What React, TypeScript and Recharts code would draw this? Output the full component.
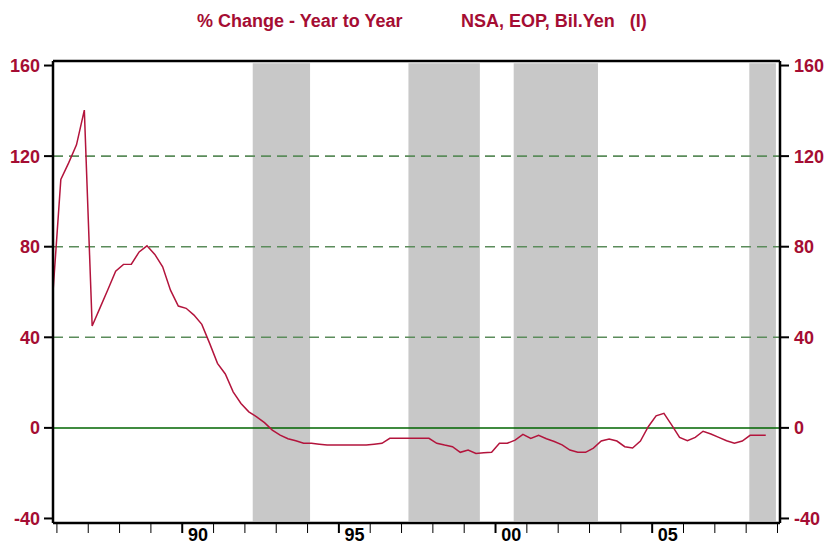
import React from 'react';
import { LineChart, Line, XAxis, YAxis, ReferenceArea, ReferenceLine } from 'recharts';

// Quarterly observations, % change year to year
const quarters = [
  '1985Q4',
  '1986Q1', '1986Q2', '1986Q3', '1986Q4',
  '1987Q1', '1987Q2', '1987Q3', '1987Q4',
  '1988Q1', '1988Q2', '1988Q3', '1988Q4',
  '1989Q1', '1989Q2', '1989Q3', '1989Q4',
  '1990Q1', '1990Q2', '1990Q3', '1990Q4',
  '1991Q1', '1991Q2', '1991Q3', '1991Q4',
  '1992Q1', '1992Q2', '1992Q3', '1992Q4',
  '1993Q1', '1993Q2', '1993Q3', '1993Q4',
  '1994Q1', '1994Q2', '1994Q3', '1994Q4',
  '1995Q1', '1995Q2', '1995Q3', '1995Q4',
  '1996Q1', '1996Q2', '1996Q3', '1996Q4',
  '1997Q1', '1997Q2', '1997Q3', '1997Q4',
  '1998Q1', '1998Q2', '1998Q3', '1998Q4',
  '1999Q1', '1999Q2', '1999Q3', '1999Q4',
  '2000Q1', '2000Q2', '2000Q3', '2000Q4',
  '2001Q1', '2001Q2', '2001Q3', '2001Q4',
  '2002Q1', '2002Q2', '2002Q3', '2002Q4',
  '2003Q1', '2003Q2', '2003Q3', '2003Q4',
  '2004Q1', '2004Q2', '2004Q3', '2004Q4',
  '2005Q1', '2005Q2', '2005Q3', '2005Q4',
  '2006Q1', '2006Q2', '2006Q3', '2006Q4',
  '2007Q1', '2007Q2', '2007Q3', '2007Q4',
  '2008Q1', '2008Q2', '2008Q3',
];

const yoyChange = [
  60,
  109.7, 117, 125, 140.3,
  45, 53, 61, 69.2,
  72.2, 72.3, 77.7, 80.4,
  76.6, 71.1, 60.8, 53.8,
  52.8, 49.8, 45.7, 37.3,
  28.5, 23.8, 15.9, 10.8,
  7.1, 4.9, 2.3, -1.0,
  -3.2, -4.8, -5.7, -6.8,
  -6.8, -7.2, -7.6, -7.6,
  -7.6, -7.6, -7.6, -7.6,
  -7.2, -6.8, -4.6, -4.6,
  -4.6, -4.6, -4.6, -4.6,
  -6.8, -7.6, -8.3, -10.8,
  -9.8, -11.3, -11.0, -10.8,
  -6.8, -6.8, -5.4, -2.9,
  -4.7, -3.3, -4.8, -6.0,
  -7.5, -9.8, -10.8, -10.8,
  -8.9, -5.8, -4.9, -5.8,
  -8.3, -8.9, -5.8, 0.5,
  5.3, 6.4, 1.2, -4.2,
  -5.7, -4.2, -1.5, -2.7,
  -4.2, -5.7, -6.8, -5.8,
  -3.3, -3.3, -3.3,
];

// shaded periods (fractional years)
const shadeStart = [1992.25, 1997.22, 2000.58, 2008.1];
const shadeEnd = [1994.08, 1999.5, 2003.27, 2008.95];

const yTicks = [-40, 0, 40, 80, 120, 160];
const dashedLevels = [40, 80, 120];
const yearTicks = [
  1986, 1987, 1988, 1989, 1990, 1991, 1992, 1993, 1994, 1995, 1996, 1997,
  1998, 1999, 2000, 2001, 2002, 2003, 2004, 2005, 2006, 2007, 2008, 2009,
];
const labelYears = [1990, 1995, 2000, 2005];
const yearLabels = ['90', '95', '00', '05'];

const X_DOMAIN: [number, number] = [1985.875, 2009.08];
const Y_DOMAIN: [number, number] = [-42, 162];

const CHART_W = 827;
const LEFT_W = 53;
const RIGHT_W = 47;
// half a year in pixels, so the year label sits in the middle of its year
const HALF_YEAR = (CHART_W - LEFT_W - RIGHT_W) / (X_DOMAIN[1] - X_DOMAIN[0]) / 2;

const RED = '#a50d33';
const FONT = '"Liberation Sans", Arial, sans-serif';

const chartData = quarters.map((q, i) => ({
  t: Number(q.slice(0, 4)) + (Number(q.slice(5)) - 0.5) / 4,
  value: yoyChange[i],
}));

const YearTick = (props: any) => {
  const { x, y, payload } = props;
  const idx = labelYears.indexOf(payload.value);
  const major = idx >= 0;
  return (
    <g>
      <line x1={x} x2={x} y1={y + 1} y2={y + 10} stroke="#000" strokeWidth={major ? 2 : 1} />
      {major && (
        <text
          x={x + HALF_YEAR}
          y={y + 5}
          dy="0.71em"
          textAnchor="middle"
          fill="#000"
          fontSize={18}
          fontWeight={700}
          fontFamily={FONT}
        >
          {yearLabels[idx]}
        </text>
      )}
    </g>
  );
};

const App = () => {
  const tickStyle = { fill: RED, fontSize: 18, fontWeight: 700, fontFamily: FONT };
  return (
    <div style={{ position: 'absolute', left: 0, top: 0, width: 827, height: 544, background: '#fff' }}>
      <div
        style={{
          position: 'absolute',
          top: 12,
          left: 0,
          width: 827,
          fontFamily: FONT,
          fontWeight: 700,
          fontSize: 18,
          lineHeight: '18px',
          color: RED,
          whiteSpace: 'pre',
        }}
      >
        <span style={{ position: 'absolute', left: 197 }}>% Change - Year to Year</span>
        <span style={{ position: 'absolute', left: 461 }}>NSA, EOP, Bil.Yen   (I)</span>
      </div>
      <LineChart
        width={CHART_W}
        height={544}
        data={chartData}
        margin={{ top: 61, right: 0, bottom: 0, left: 0 }}
      >
        <XAxis
          xAxisId="main"
          dataKey="t"
          type="number"
          domain={X_DOMAIN}
          allowDataOverflow
          ticks={yearTicks}
          interval={0}
          height={21}
          tickSize={0}
          tickMargin={0}
          tickLine={false}
          tick={<YearTick />}
          axisLine={{ stroke: '#000', strokeWidth: 2.5 }}
        />
        <YAxis
          yAxisId="left"
          domain={Y_DOMAIN}
          allowDataOverflow
          ticks={yTicks}
          interval={0}
          width={LEFT_W}
          tickSize={9}
          tickMargin={4}
          tick={tickStyle}
          tickLine={{ stroke: '#000', strokeWidth: 2 }}
          axisLine={{ stroke: '#000', strokeWidth: 2.5 }}
        />
        <YAxis
          yAxisId="right"
          orientation="right"
          domain={Y_DOMAIN}
          allowDataOverflow
          ticks={yTicks}
          interval={0}
          width={RIGHT_W}
          tickSize={9}
          tickMargin={5}
          tick={tickStyle}
          tickLine={{ stroke: '#000', strokeWidth: 2 }}
          axisLine={{ stroke: '#000', strokeWidth: 2.5 }}
        />

        {shadeStart.map((s, i) => (
          <ReferenceArea
            key={'shade' + i}
            xAxisId="main"
            yAxisId="left"
            x1={s}
            x2={shadeEnd[i]}
            y1={-41.2}
            y2={161}
            fill="#c8c8c8"
            fillOpacity={1}
            stroke="none"
          />
        ))}

        {dashedLevels.map((lvl) => (
          <ReferenceLine
            key={'dash' + lvl}
            xAxisId="main"
            yAxisId="left"
            y={lvl}
            stroke="#5b8c5b"
            strokeWidth={1.6}
            strokeDasharray="10 6"
          />
        ))}
        <ReferenceLine xAxisId="main" yAxisId="left" y={0} stroke="#006400" strokeWidth={1.5} />
        {/* top frame */}
        <ReferenceLine xAxisId="main" yAxisId="left" y={Y_DOMAIN[1]} stroke="#000" strokeWidth={2.5} />

        <Line
          xAxisId="main"
          yAxisId="left"
          dataKey="value"
          type="linear"
          stroke="#b3143c"
          strokeWidth={1.5}
          dot={false}
          isAnimationActive={false}
        />
      </LineChart>
    </div>
  );
};

export default App;
